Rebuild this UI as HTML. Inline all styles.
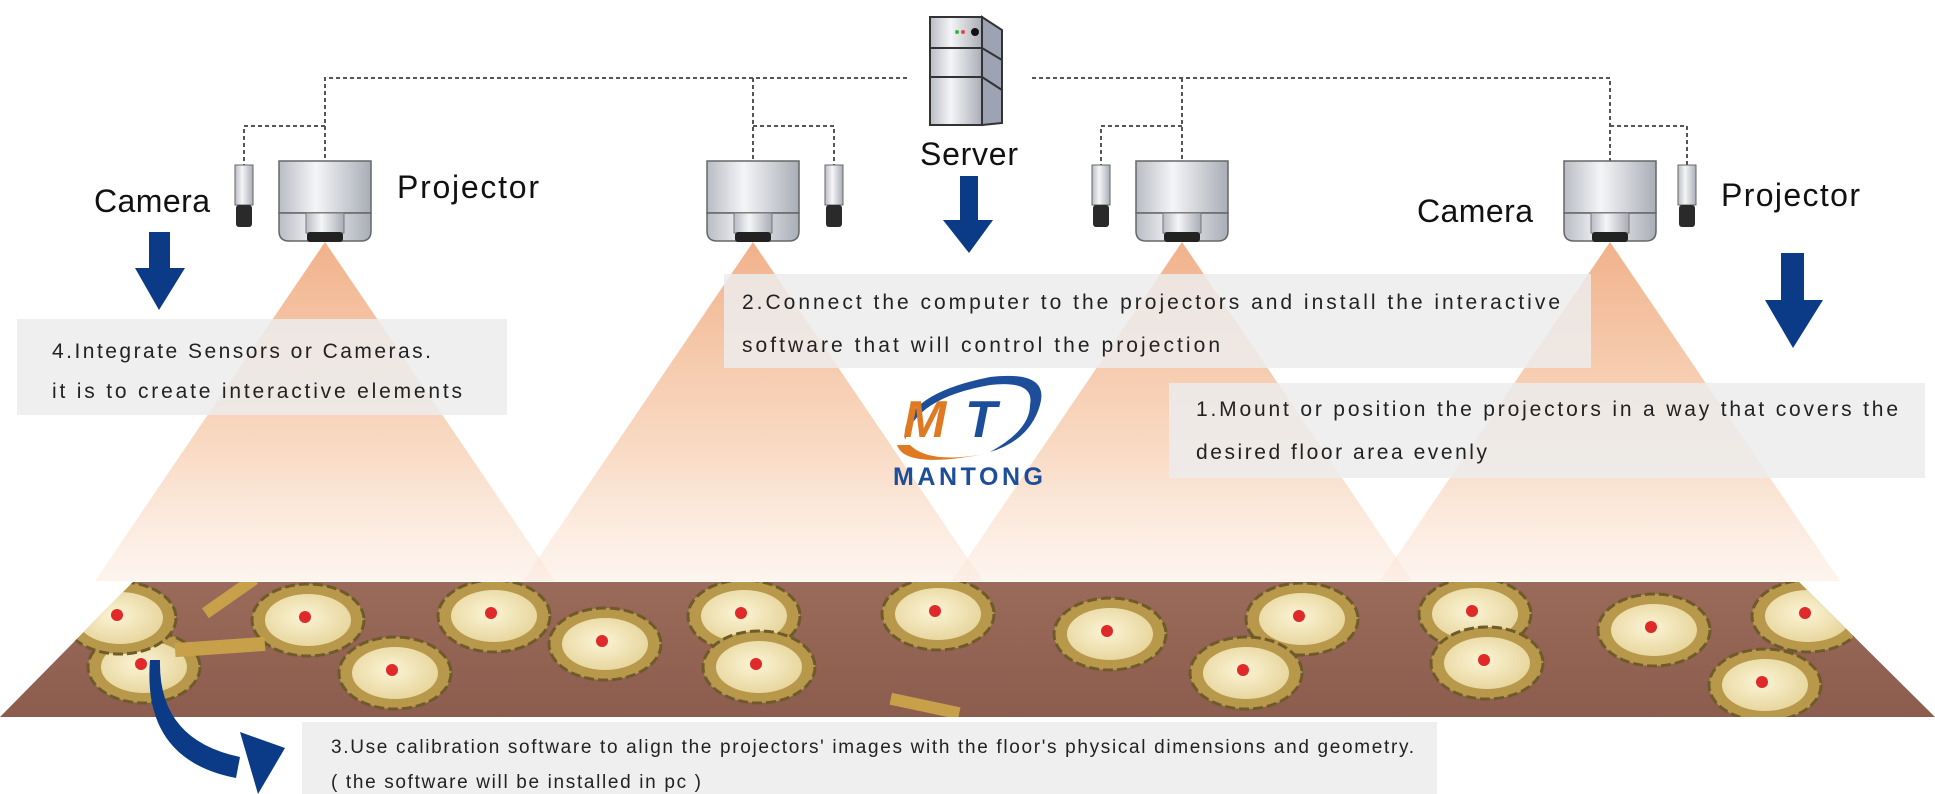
<!DOCTYPE html>
<html><head><meta charset="utf-8"><style>
html,body{margin:0;padding:0;background:#fff;}
svg{display:block;}
text{font-family:"Liberation Sans",sans-serif;}
</style></head><body>
<svg width="1935" height="794" viewBox="0 0 1935 794" xmlns="http://www.w3.org/2000/svg">
<defs>
<linearGradient id="cone" x1="0" y1="0" x2="0" y2="1">
<stop offset="0" stop-color="#f0ad84" stop-opacity="0.95"/>
<stop offset="0.6" stop-color="#f6c9a8" stop-opacity="0.7"/>
<stop offset="1" stop-color="#fbe7da" stop-opacity="0.45"/>
</linearGradient>
<linearGradient id="metal" x1="0" y1="0" x2="1" y2="0">
<stop offset="0" stop-color="#b9bcc4"/><stop offset="0.4" stop-color="#f4f5f7"/><stop offset="1" stop-color="#a9adb6"/>
</linearGradient>
<linearGradient id="floor" x1="0" y1="0" x2="0" y2="1">
<stop offset="0" stop-color="#9a6a5a"/><stop offset="1" stop-color="#8c5d4e"/>
</linearGradient>
<radialGradient id="nest" cx="0.45" cy="0.45" r="0.6">
<stop offset="0" stop-color="#fbf4d6"/><stop offset="1" stop-color="#e6d49a"/>
</radialGradient>
<g id="nestg">
<ellipse cx="0" cy="0" rx="56" ry="36" fill="#b8984a" stroke="#6f5a2a" stroke-width="3" stroke-dasharray="10 4"/>
<ellipse cx="0" cy="0" rx="43" ry="26" fill="url(#nest)"/>
<circle cx="-3" cy="-3" r="6" fill="#e02a2a"/>
</g>
<g id="proj">
<rect x="-46" y="0" width="92" height="52" fill="url(#metal)" stroke="#666" stroke-width="1.5"/>
<path d="M-46 52 L46 52 L46 70 Q46 80 36 80 L-36 80 Q-46 80 -46 70 Z" fill="url(#metal)" stroke="#666" stroke-width="1.5"/>
<rect x="-19" y="52" width="38" height="20" fill="url(#metal)" stroke="#777" stroke-width="1"/>
<rect x="-18" y="71" width="36" height="10" rx="3" fill="#222"/>
</g>
<g id="cam">
<rect x="-9" y="0" width="18" height="40" fill="url(#metal)" stroke="#666" stroke-width="1"/>
<rect x="-8" y="40" width="16" height="22" rx="3" fill="#2a2a2a"/>
</g>
</defs>

<polygon points="325,242 95,581 555,581" fill="url(#cone)"/>
<polygon points="753,242 523,581 983,581" fill="url(#cone)"/>
<polygon points="1182,242 952,581 1412,581" fill="url(#cone)"/>
<polygon points="1610,242 1380,581 1840,581" fill="url(#cone)"/>

<g fill="none" stroke="#555" stroke-width="2" stroke-dasharray="4 3">
<path d="M907 78 H325 V161"/>
<path d="M1032 78 H1610 V161"/>
<path d="M753 78 V161"/>
<path d="M1182 78 V161"/>
<path d="M325 126 H244 V165"/>
<path d="M753 126 H834 V165"/>
<path d="M1182 126 H1101 V165"/>
<path d="M1610 126 H1687 V165"/>
</g>

<g stroke="#333" stroke-width="2">
<polygon points="982,17 1002,30 1002,123 982,125" fill="#9ea3b3"/>
<rect x="930" y="17" width="52" height="108" fill="url(#metal)"/>
<line x1="930" y1="48" x2="982" y2="48"/><line x1="930" y1="77" x2="982" y2="77"/>
<line x1="982" y1="48" x2="1002" y2="60"/><line x1="982" y1="77" x2="1002" y2="90"/>
</g>
<circle cx="957" cy="32" r="2" fill="#3b3"/><circle cx="963" cy="32" r="2" fill="#e44"/><circle cx="975" cy="32" r="4" fill="#111"/>

<use href="#proj" x="325" y="161"/>
<use href="#proj" x="753" y="161"/>
<use href="#proj" x="1182" y="161"/>
<use href="#proj" x="1610" y="161"/>
<use href="#cam" x="244" y="165"/>
<use href="#cam" x="834" y="165"/>
<use href="#cam" x="1101" y="165"/>
<use href="#cam" x="1687" y="165"/>

<text x="94" y="212" font-size="32" fill="#111" textLength="116">Camera</text>
<text x="397" y="198" font-size="32" fill="#111" textLength="142">Projector</text>
<text x="920" y="165" font-size="32" fill="#111" textLength="98">Server</text>
<text x="1417" y="222" font-size="32" fill="#111" textLength="116">Camera</text>
<text x="1721" y="206" font-size="32" fill="#111" textLength="139">Projector</text>

<g fill="#0b3a87">
<polygon points="149,232 170,232 170,268 185,268 159,310 135,268 149,268"/>
<polygon points="960,176 978,176 978,220 993,220 969,253 943,220 960,220"/>
<polygon points="1781,253 1804,253 1804,300 1823,300 1793,348 1765,300 1781,300"/>
</g>

<polygon points="133,582 1799,582 1935,717 0,717" fill="url(#floor)"/>
<clipPath id="fc"><polygon points="133,582 1799,582 1935,717 0,717"/></clipPath>
<g clip-path="url(#fc)">
<use href="#nestg" x="308" y="620"/><use href="#nestg" x="494" y="616"/>
<use href="#nestg" x="744" y="616"/><use href="#nestg" x="938" y="614"/>
<use href="#nestg" x="1302" y="619"/><use href="#nestg" x="1475" y="614"/>
<use href="#nestg" x="1808" y="616"/><use href="#nestg" x="605" y="644"/>
<use href="#nestg" x="1110" y="634"/><use href="#nestg" x="1654" y="630"/>
<use href="#nestg" x="144" y="667"/><use href="#nestg" x="395" y="673"/>
<use href="#nestg" x="759" y="667"/><use href="#nestg" x="1246" y="673"/>
<use href="#nestg" x="1487" y="663"/><use href="#nestg" x="1765" y="685"/>
<use href="#nestg" x="120" y="618"/>
<rect x="175" y="640" width="90" height="14" fill="#c9a04a" transform="rotate(-4 220 647)"/>
<rect x="200" y="590" width="60" height="12" fill="#c9a04a" transform="rotate(-35 230 596)"/>
<rect x="890" y="700" width="70" height="12" fill="#c9a04a" transform="rotate(12 925 706)"/>
</g>

<rect x="17" y="319" width="490" height="96" fill="#ececec" fill-opacity="0.85"/>
<text x="52" y="358" font-size="21" fill="#222" textLength="379">4.Integrate Sensors or Cameras.</text>
<text x="52" y="398" font-size="21" fill="#222" textLength="410">it is to create interactive elements</text>

<rect x="724" y="274" width="867" height="94" fill="#ececec" fill-opacity="0.85"/>
<text x="742" y="309" font-size="21" fill="#222" textLength="818">2.Connect the computer to the projectors and install the interactive</text>
<text x="742" y="352" font-size="21" fill="#222" textLength="478">software that will control the projection</text>

<rect x="1169" y="383" width="756" height="95" fill="#ececec" fill-opacity="0.85"/>
<text x="1196" y="416" font-size="21" fill="#222" textLength="702">1.Mount or position the projectors in a way that covers the</text>
<text x="1196" y="459" font-size="21" fill="#222" textLength="291">desired floor area evenly</text>

<rect x="302" y="722" width="1135" height="72" fill="#efefef"/>
<text x="331" y="753" font-size="19" fill="#222" textLength="1083">3.Use calibration software to align the projectors' images with the floor's physical dimensions and geometry.</text>
<text x="331" y="788" font-size="19" fill="#222" textLength="370">( the software will be installed in pc )</text>

<path d="M160 660 Q158 740 240 757 L236 778 Q142 760 150 660 Z" fill="#0b3a87"/>
<polygon points="240,732 285,748 258,794" fill="#0b3a87"/>

<path d="M905 440 Q900 395 990 377 Q1050 370 1040 405 Q1030 440 990 452 Q1030 430 1030 405 Q1035 380 990 385 Q915 398 905 440 Z" fill="#1d4e9a"/>
<path d="M897 445 Q905 470 990 453 Q930 465 910 445 Z" fill="#e07a22"/>
<text x="903" y="437" font-size="52" font-weight="bold" font-style="italic" fill="#e07a22" textLength="62">M</text>
<text x="965" y="437" font-size="52" font-weight="bold" font-style="italic" fill="#1d4e9a" textLength="40">T</text>
<text x="893" y="485" font-size="25" font-weight="bold" fill="#1d4e9a" textLength="150">MANTONG</text>
</svg>
</body></html>
